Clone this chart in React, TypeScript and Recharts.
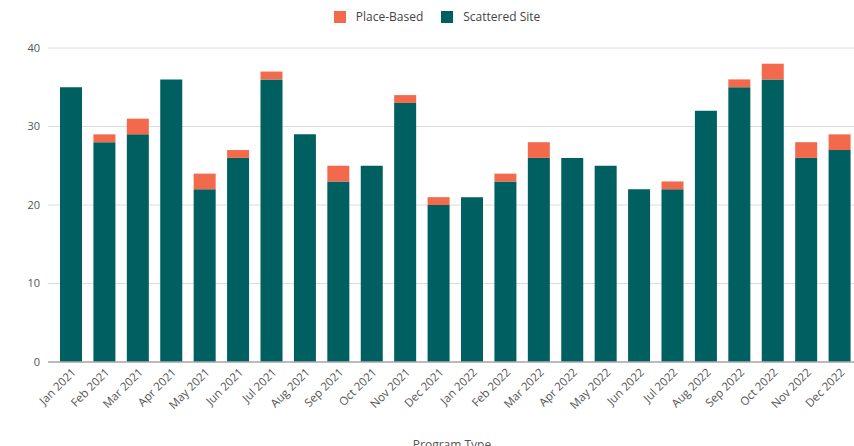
import React from 'react';
import { BarChart, Bar, XAxis, YAxis, CartesianGrid, Legend } from 'recharts';

const months = [
  'Jan 2021', 'Feb 2021', 'Mar 2021', 'Apr 2021', 'May 2021', 'Jun 2021',
  'Jul 2021', 'Aug 2021', 'Sep 2021', 'Oct 2021', 'Nov 2021', 'Dec 2021',
  'Jan 2022', 'Feb 2022', 'Mar 2022', 'Apr 2022', 'May 2022', 'Jun 2022',
  'Jul 2022', 'Aug 2022', 'Sep 2022', 'Oct 2022', 'Nov 2022', 'Dec 2022',
];

const scatteredSite = [35, 28, 29, 36, 22, 26, 36, 29, 23, 25, 33, 20, 21, 23, 26, 26, 25, 22, 22, 32, 35, 36, 26, 27];
const placeBased = [0, 1, 2, 0, 2, 1, 1, 0, 2, 0, 1, 1, 0, 1, 2, 0, 0, 0, 1, 0, 1, 2, 2, 2];

const yTicks = [0, 10, 20, 30, 40];

const data = months.map((name, i) => ({
  name,
  scattered: scatteredSite[i],
  place: placeBased[i],
}));

const FONT = "'Open Sans', 'Noto Sans', sans-serif";
const TEAL = '#005f61';
const ORANGE = '#f26a4b';

const legendItems = [
  { label: 'Place-Based', color: ORANGE },
  { label: 'Scattered Site', color: TEAL },
];

const LegendContent = () => (
  <div style={{ display: 'flex', justifyContent: 'center', alignItems: 'center', fontFamily: FONT, fontSize: 12, color: '#444' }}>
    {legendItems.map((item) => (
      <div key={item.label} style={{ display: 'flex', alignItems: 'center', marginRight: 18 }}>
        <span style={{ display: 'inline-block', width: 12, height: 12, background: item.color, marginRight: 10 }} />
        <span>{item.label}</span>
      </div>
    ))}
  </div>
);

// rotated month labels, anchored just right of each bar's centre
const MonthTick = (props: any) => {
  const { x, y, payload } = props;
  return (
    <g transform={`translate(${x + 6},${y + 3})`}>
      <text x={0} y={0} textAnchor="end" transform="rotate(-45)" fontSize={11.5} fill="#555" fontFamily={FONT}>
        {payload.value}
      </text>
    </g>
  );
};

export default function App() {
  return (
    <div style={{ position: 'fixed', left: 0, top: 0, width: 854, height: 446, overflow: 'hidden', background: '#fff' }}>
      <BarChart
        width={856}
        height={460}
        data={data}
        margin={{ top: 8, right: 0, left: 0, bottom: 0 }}
      >
        <Legend verticalAlign="top" align="center" height={40} wrapperStyle={{ left: 18 }} content={LegendContent} />
        <CartesianGrid vertical={false} stroke="#dcdcdc" />
        <XAxis
          dataKey="name"
          interval={0}
          height={98}
          padding={{ left: 6, right: 0 }}
          tickLine={false}
          axisLine={{ stroke: '#aaaaaa', strokeWidth: 1.5 }}
          tick={<MonthTick />}
          label={{ value: 'Program Type', position: 'insideBottom', offset: 11, fontSize: 12, fill: '#555', fontFamily: FONT }}
        />
        <YAxis
          width={48}
          domain={[0, 40]}
          ticks={yTicks}
          tickLine={false}
          axisLine={false}
          tick={{ fontSize: 11, fill: '#555', fontFamily: FONT }}
        />
        <Bar dataKey="scattered" name="Scattered Site" stackId="a" fill={TEAL} barSize={22} isAnimationActive={false} />
        <Bar dataKey="place" name="Place-Based" stackId="a" fill={ORANGE} barSize={22} isAnimationActive={false} />
      </BarChart>
    </div>
  );
}
